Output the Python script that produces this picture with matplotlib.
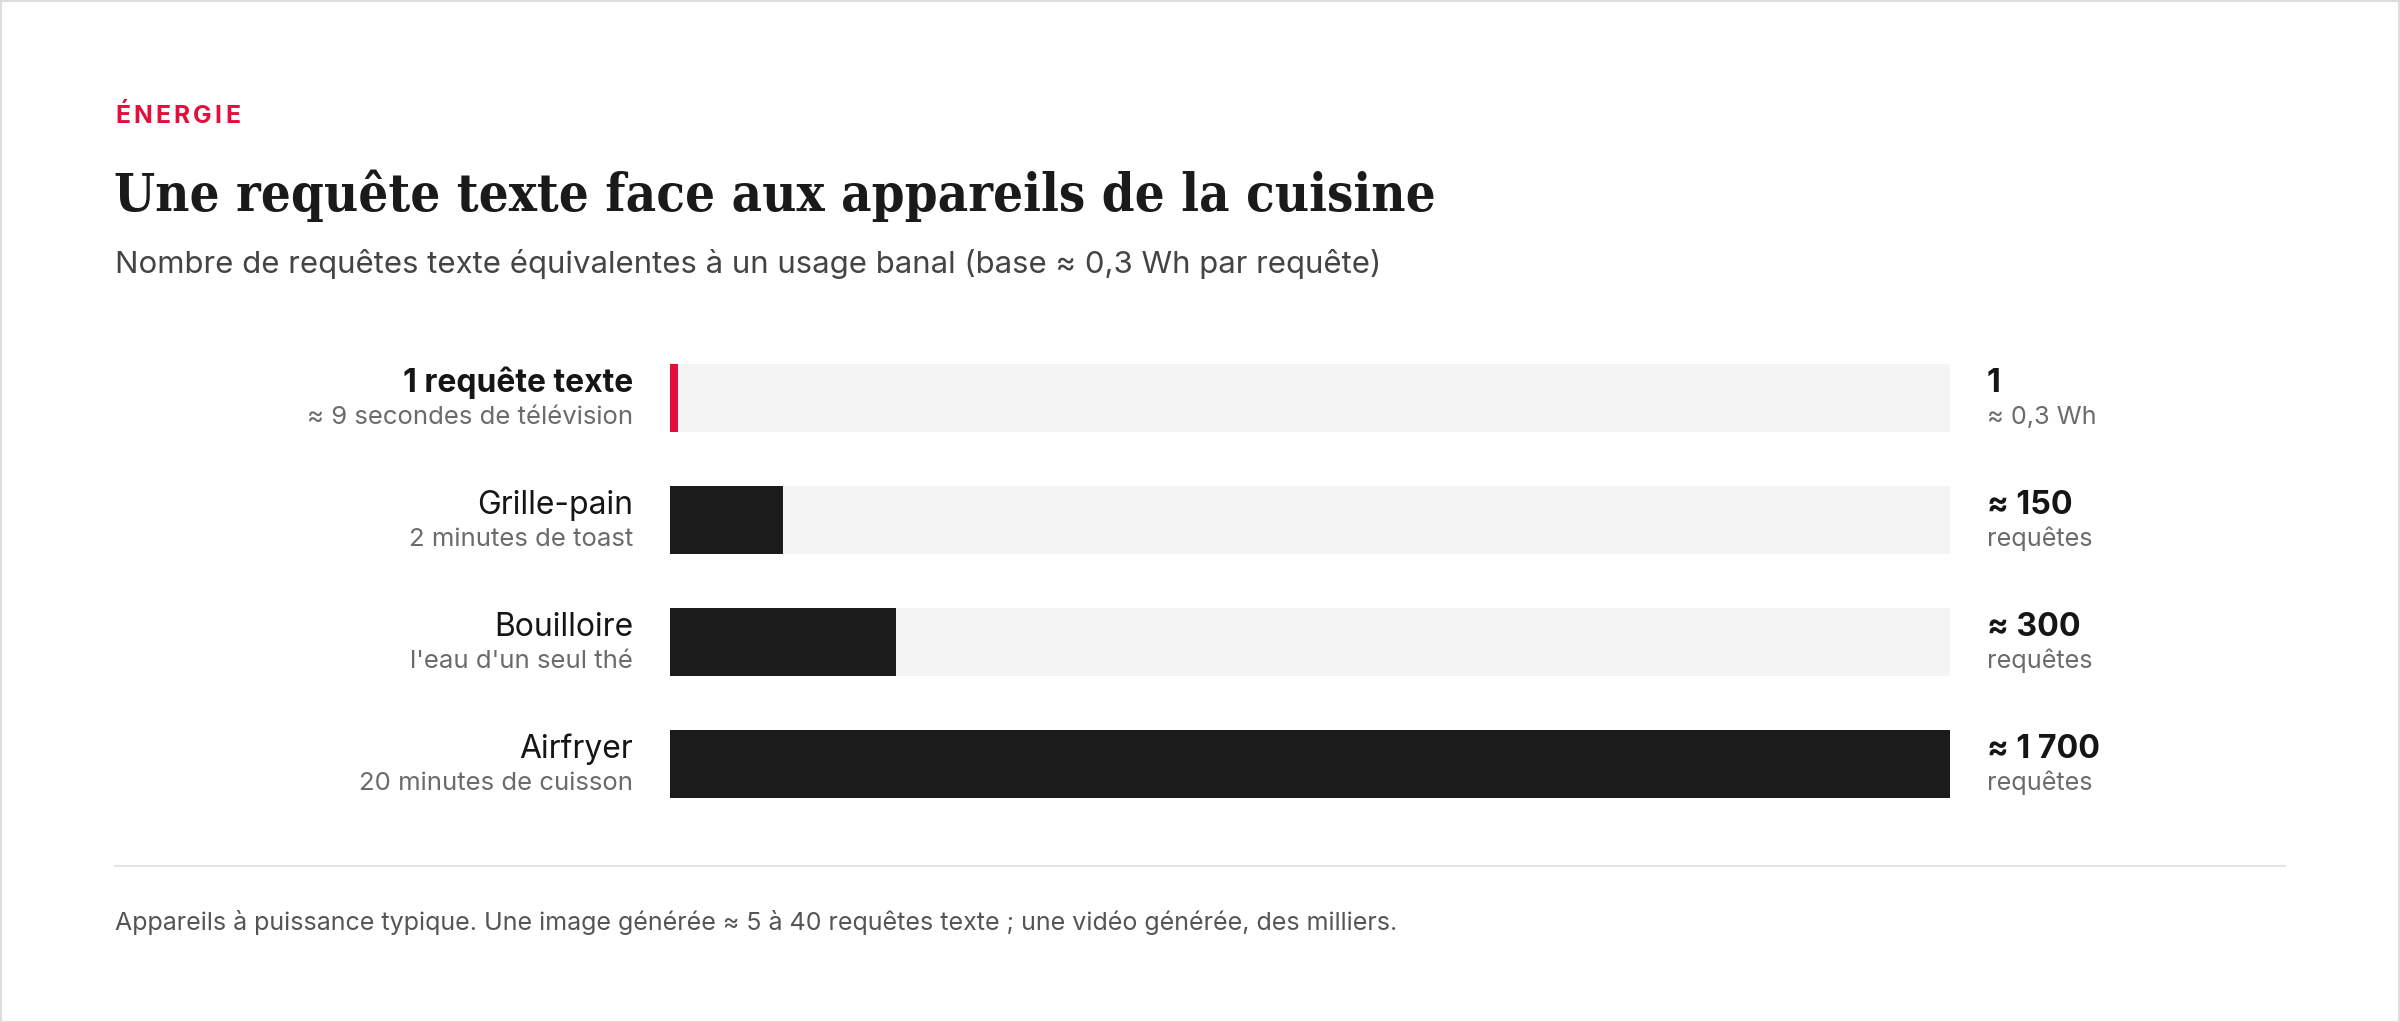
import matplotlib
matplotlib.use("Agg")
import matplotlib.pyplot as plt
from matplotlib.patches import Rectangle
from matplotlib.lines import Line2D
import matplotlib.transforms as mtransforms

# ---------------- data ----------------
kicker = "ÉNERGIE"
title = "Une requête texte face aux appareils de la cuisine"
subtitle = "Nombre de requêtes texte équivalentes à un usage banal (base ≈ 0,3 Wh par requête)"
footer = "Appareils à puissance typique. Une image générée ≈ 5 à 40 requêtes texte ; une vidéo générée, des milliers."

categories = ["1 requête texte", "Grille-pain", "Bouilloire", "Airfryer"]
descriptions = ["≈ 9 secondes de télévision", "2 minutes de toast", "l'eau d'un seul thé", "20 minutes de cuisson"]
values = [1, 150, 300, 1700]
value_labels = ["1", "≈ 150", "≈ 300", "≈ 1 700"]
value_units = ["≈ 0,3 Wh", "requêtes", "requêtes", "requêtes"]
highlight = [True, False, False, False]
scale_max = 1700

# ---------------- style ----------------
W, H, DPI = 2400, 1022, 100
RED = "#e60c3b"
DARK = "#1b1b1b"
TRACK = "#f4f4f4"
GRAY_SUB = "#6b6b6b"
GRAY_TXT = "#444444"
SANS = ["Inter", "DejaVu Sans"]
SERIF = ["DejaVu Serif"]

fig = plt.figure(figsize=(W / DPI, H / DPI), dpi=DPI)
fig.patch.set_facecolor("white")
renderer = fig.canvas.get_renderer()


def fx(px):
    return px / W


def fy(py):
    return 1 - py / H


def width_px(t):
    return t.get_window_extent(renderer).width


def fit(t, target):
    t.set_fontsize(t.get_fontsize() * target / width_px(t))
    return t.get_fontsize()


# border
fig.patches.append(Rectangle((0.5 / W, 0.5 / H), 1 - 1.5 / W, 1 - 1.5 / H, transform=fig.transFigure,
                             fill=False, edgecolor="#dcdcdc", linewidth=1.5))

# kicker with letter spacing
k_size = 17.8
k_target = 125
probe = fig.text(0, 0, kicker, fontsize=k_size, fontweight="bold", family=SANS)
w0 = width_px(probe)
probe.remove()
gap = (k_target - w0) / (len(kicker) - 1)
for i, ch in enumerate(kicker):
    if i:
        p = fig.text(0, 0, kicker[:i], fontsize=k_size, fontweight="bold", family=SANS)
        off = width_px(p)
        p.remove()
    else:
        off = 0
    fig.text(fx(115 + off + i * gap), fy(123), ch, ha="left", va="baseline", fontsize=k_size,
             fontweight="bold", color=RED, family=SANS)

t_title = fig.text(fx(114), fy(211), title, ha="left", va="baseline", fontsize=40, fontweight="bold",
                   fontstretch="condensed", color="#1a1a1a", family=SERIF)
fit(t_title, 1319)
t_sub = fig.text(fx(115), fy(264), subtitle, ha="left", va="center", fontsize=21, color=GRAY_TXT, family=SANS)
fit(t_sub, 1267)

# bars axes
track_left, track_right = 670, 1950
row_top, row_bottom = 337, 825
ax = fig.add_axes([fx(track_left), fy(row_bottom), (track_right - track_left) / W, (row_bottom - row_top) / H])
ax.set_xlim(0, scale_max)
n = len(categories)
ax.set_ylim(n - 0.5, -0.5)
ax.axis("off")

ypos = list(range(n))
bar_h = 0.55
min_w = 8 / (track_right - track_left) * scale_max
ax.barh(ypos, [scale_max] * n, height=bar_h, color=TRACK, left=0, zorder=1)
widths = [max(v, min_w) for v in values]
colors = [RED if h else DARK for h in highlight]
ax.barh(ypos, widths, height=bar_h, color=colors, left=0, zorder=2)

# font sizes fitted to reference widths
p = fig.text(0, 0, "Grille-pain", fontsize=20, family=SANS)
main_size = fit(p, 156); p.remove()
p = fig.text(0, 0, "2 minutes de toast", fontsize=16, family=SANS)
sub_size = fit(p, 225); p.remove()
p = fig.text(0, 0, "≈ 1 700", fontsize=20, fontweight="bold", family=SANS)
val_size = fit(p, 113); p.remove()
p = fig.text(0, 0, "requêtes", fontsize=16, family=SANS)
unit_size = fit(p, 106); p.remove()

trans_left = mtransforms.blended_transform_factory(fig.transFigure, ax.transData)
t_main = mtransforms.offset_copy(trans_left, fig=fig, x=0, y=4.5, units="points")
t_low = mtransforms.offset_copy(trans_left, fig=fig, x=0, y=-18.6, units="points")
for i, (cat, desc, vl, vu, hl) in enumerate(zip(categories, descriptions, value_labels, value_units, highlight)):
    ax.text(fx(633), i, cat, transform=t_main, ha="right", va="baseline", fontsize=main_size,
            fontweight="bold" if hl else "normal", color="#151515", family=SANS)
    ax.text(fx(633), i, desc, transform=t_low, ha="right", va="baseline", fontsize=sub_size,
            color=GRAY_SUB, family=SANS)
    ax.text(fx(1987), i, vl, transform=t_main, ha="left", va="baseline", fontsize=val_size,
            fontweight="bold", color="#151515", family=SANS)
    ax.text(fx(1987), i, vu, transform=t_low, ha="left", va="baseline", fontsize=unit_size,
            color=GRAY_SUB, family=SANS)

# separator
fig.lines.append(Line2D([fx(115), fx(2285)], [fy(866), fy(866)], transform=fig.transFigure,
                        color="#e4e4e4", linewidth=1.5))

t_foot = fig.text(fx(115), fy(922), footer, ha="left", va="center", fontsize=17, color="#555555", family=SANS)
fit(t_foot, 1286)

fig.savefig("out.png", dpi=DPI, facecolor="white")
